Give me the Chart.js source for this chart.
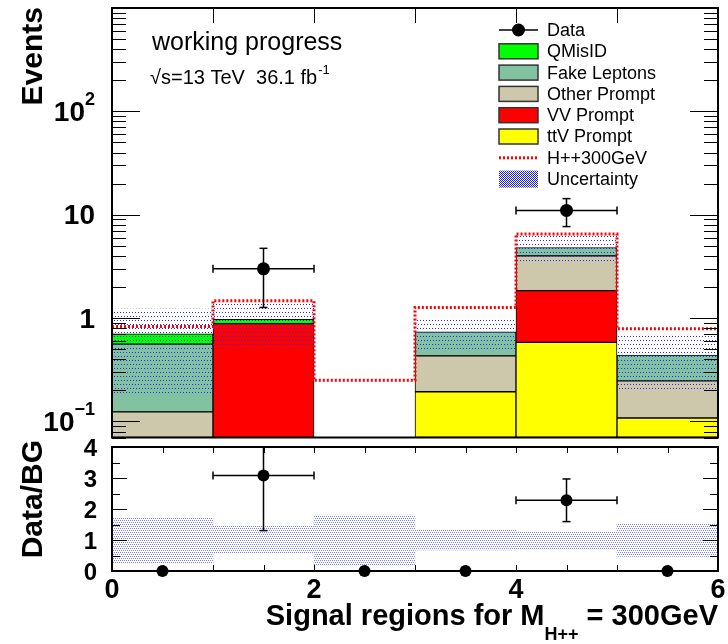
<!DOCTYPE html>
<html>
<head>
<meta charset="utf-8">
<script src="https://cdn.jsdelivr.net/npm/chart.js@4.4.1/dist/chart.umd.min.js"></script>
<style>
  html, body { margin: 0; padding: 0; background: #fff; }
  #wrap { position: relative; width: 728px; height: 644px; overflow: hidden; }
  #top { position: absolute; left: 0; top: 0; }
  #bot { position: absolute; left: 0; top: 432px; }
</style>
</head>
<body>
<div id="wrap">
  <canvas id="top" width="728" height="444" style="width:728px;height:444px"></canvas>
  <canvas id="bot" width="728" height="212" style="width:728px;height:212px"></canvas>
</div>
<script>
var FONT = "'Liberation Sans', Arial, Helvetica, sans-serif";

// bin edges of the signal regions
var bins = [0, 1, 2, 3, 4, 5, 6];

// background yields per bin (stacked, bottom to top)
var ttvPrompt   = [null, null, null, 0.194, 0.582, 0.108];
var vvPrompt    = [null, 0.883, null, null, 1.26, null];
var otherPrompt = [0.124, null, null, 0.237, 2.16, 0.139];
var fakeLeptons = [0.437, null, null, 0.304, 0.82, 0.191];
var qMisID      = [0.144, 0.09, null, null, null, null];

// H++ 300 GeV outline, data counts, relative bkg uncertainty
var hppLine    = [0.83, 1.47, 0.25, 1.27, 6.5, 0.79];
var dataCounts = [0, 3, 0, 0, 11, 0];
var relUnc     = [0.73, 0.44, 0.8, 0.32, 0.28, 0.53];

// axis labels
var xTickLabels = [0, 2, 4, 6];
var ratioTicks  = [0, 1, 2, 3, 4];
var eventTicks  = [[0.1, '10', '\u22121'], [1, '1', ''], [10, '10', ''], [100, '10', '2']];

var centers = dataCounts.map(function (d, i) { return (bins[i] + bins[i + 1]) / 2; });
function pts(arr) { return arr.map(function (v, i) { return {x: centers[i], y: v}; }); }

var bgTotal = centers.map(function (c, i) {
  return [ttvPrompt, vvPrompt, otherPrompt, fakeLeptons, qMisID].reduce(function (s, a) { return s + (a[i] || 0); }, 0);
});
var uncBand = bgTotal.map(function (t, i) {
  return {x: centers[i], y: t > 0 ? [t * (1 - relUnc[i]), t * (1 + relUnc[i])] : null};
});
var hppStep = bins.map(function (b, i) { return {x: b, y: hppLine[Math.min(i, hppLine.length - 1)]}; });
var dataPts = [];
dataCounts.forEach(function (n, i) { if (n > 0) dataPts.push({x: centers[i], y: n}); });

var ratio = dataCounts.map(function (n, i) { return bgTotal[i] > 0 ? n / bgTotal[i] : 0; });
var ratioErr = dataCounts.map(function (n, i) { return bgTotal[i] > 0 ? Math.sqrt(n) / bgTotal[i] : 0; });
var bandPts = relUnc.map(function (e, i) { return {x: centers[i], y: [1 - e, 1 + e]}; });

function makePattern(target, w, h, dots, color) {
  var c = document.createElement('canvas');
  c.width = w; c.height = h;
  var g = c.getContext('2d');
  g.fillStyle = color;
  dots.forEach(function (d) { g.fillRect(d[0], d[1], 1, 1); });
  return target.createPattern(c, 'repeat');
}

var topCtx = document.getElementById('top').getContext('2d');
var botCtx = document.getElementById('bot').getContext('2d');
var uncPattern = makePattern(topCtx, 6, 8, [[0, 0], [3, 0], [1, 4], [4, 4]], '#2a2aff');
var legPattern = makePattern(topCtx, 2, 2, [[0, 0], [1, 1]], '#1a1aff');
var bandPattern = makePattern(botCtx, 4, 4, [[0, 0], [2, 0], [1, 2], [3, 2]], '#7c7cff');

function stackSet(label, arr, color) {
  return {
    label: label, type: 'bar', data: pts(arr), stack: 'bg', order: 3,
    backgroundColor: color, borderColor: '#000', borderWidth: 1, borderSkipped: false,
    barPercentage: 1, categoryPercentage: 1
  };
}

function seg(ctx, x0, y0, x1, y1) {
  ctx.beginPath(); ctx.moveTo(x0, y0); ctx.lineTo(x1, y1); ctx.stroke();
}

function errorBars(ctx, xs, ys, cx, cy, yLo, yHi, area) {
  var x0 = xs.getPixelForValue(cx - 0.5), x1 = xs.getPixelForValue(cx + 0.5);
  var py = ys.getPixelForValue(cy), px = xs.getPixelForValue(cx);
  var top = Math.max(ys.getPixelForValue(yHi), area.top);
  var bot = Math.min(ys.getPixelForValue(yLo), area.bottom);
  ctx.strokeStyle = '#000';
  ctx.lineWidth = 1.5;
  seg(ctx, x0, py, x1, py);
  seg(ctx, x0, py - 4, x0, py + 4);
  seg(ctx, x1, py - 4, x1, py + 4);
  seg(ctx, px, top, px, bot);
  if (top > area.top) seg(ctx, px - 4, top, px + 4, top);
  if (bot < area.bottom) seg(ctx, px - 4, bot, px + 4, bot);
}

var upperDecor = {
  id: 'upperDecor',
  afterDatasetsDraw: function (chart) {
    var ctx = chart.ctx, a = chart.chartArea, xs = chart.scales.x, ys = chart.scales.y;
    ctx.save();
    dataCounts.forEach(function (n, i) {
      if (n > 0) errorBars(ctx, xs, ys, centers[i], n, n - Math.sqrt(n), n + Math.sqrt(n), a);
    });
    // ticks
    ctx.strokeStyle = '#000';
    ctx.lineWidth = 1;
    for (var d = -2; d <= 3; d++) {
      for (var m = 1; m <= 9; m++) {
        var v = m * Math.pow(10, d);
        if (v < ys.min || v > ys.max) continue;
        var py = Math.round(ys.getPixelForValue(v)) + 0.5;
        var len = m === 1 ? 28 : 14;
        seg(ctx, a.left, py, a.left + len, py);
        seg(ctx, a.right - len, py, a.right, py);
      }
    }
    for (var k = 1; k < 6; k++) {
      var px = Math.round(xs.getPixelForValue(k)) + 0.5;
      seg(ctx, px, a.top, px, a.top + 15);
    }
    ctx.lineWidth = 2;
    ctx.strokeRect(a.left, a.top, a.right - a.left, a.bottom - a.top);

    // y tick labels with exponents
    ctx.fillStyle = '#000';
    ctx.textBaseline = 'middle';
    eventTicks.forEach(function (t) {
      var py = ys.getPixelForValue(t[0]) + 2;
      ctx.font = 'bold 18px ' + FONT;
      var we = t[2] ? ctx.measureText(t[2]).width : 0;
      ctx.font = 'bold 28px ' + FONT;
      ctx.textAlign = 'right';
      ctx.fillText(t[1], 95 - we, py);
      if (t[2]) {
        ctx.font = 'bold 18px ' + FONT;
        ctx.textAlign = 'left';
        ctx.fillText(t[2], 95 - we, py - 13);
      }
    });

    // axis title
    ctx.save();
    ctx.translate(42, 7);
    ctx.rotate(-Math.PI / 2);
    ctx.font = 'bold 30px ' + FONT;
    ctx.textAlign = 'right';
    ctx.textBaseline = 'alphabetic';
    ctx.fillText('Events', 0, 0);
    ctx.restore();

    // labels
    ctx.textAlign = 'left';
    ctx.textBaseline = 'alphabetic';
    ctx.font = '25px ' + FONT;
    ctx.fillText('working progress', 152, 50);
    ctx.font = '20px ' + FONT;
    var s1 = '\u221As=13 TeV  36.1 fb';
    ctx.fillText(s1, 150, 84);
    var w1 = ctx.measureText(s1).width;
    ctx.font = '13px ' + FONT;
    ctx.fillText('-1', 150 + w1 + 1, 74);

    // legend
    var byLabel = {};
    chart.data.datasets.forEach(function (ds) { byLabel[ds.label] = ds; });
    var rows = ['Data', 'QMisID', 'Fake Leptons', 'Other Prompt', 'VV Prompt', 'ttV Prompt', 'H++300GeV', 'Uncertainty'];
    ctx.font = '18px ' + FONT;
    rows.forEach(function (name, i) {
      var cy = 30 + i * 21.3, ds = byLabel[name];
      var bx = 499, bw = 39, bh = 15;
      if (name === 'Data') {
        ctx.lineWidth = 1.5; ctx.strokeStyle = '#000';
        seg(ctx, bx, cy, bx + bw, cy);
        ctx.fillStyle = '#000';
        ctx.beginPath(); ctx.arc(bx + bw / 2, cy, 6.5, 0, Math.PI * 2); ctx.fill();
      } else if (name === 'H++300GeV') {
        ctx.save();
        ctx.strokeStyle = ds.borderColor; ctx.lineWidth = 3; ctx.setLineDash([2, 2]);
        seg(ctx, bx, cy, bx + bw, cy);
        ctx.restore();
      } else if (name === 'Uncertainty') {
        ctx.fillStyle = legPattern;
        ctx.fillRect(bx, cy - bh / 2 - 1, bw, bh + 2);
      } else {
        ctx.fillStyle = ds.backgroundColor;
        ctx.fillRect(bx, cy - bh / 2, bw, bh);
        ctx.lineWidth = 1.5; ctx.strokeStyle = '#333';
        ctx.strokeRect(bx, cy - bh / 2, bw, bh);
      }
      ctx.fillStyle = '#000';
      ctx.textBaseline = 'middle';
      ctx.fillText(name, 547, cy + 1);
    });
    ctx.restore();
  }
};

var upper = new Chart(topCtx, {
  type: 'bar',
  data: {
    datasets: [
      stackSet('ttV Prompt', ttvPrompt, '#ffff00'),
      stackSet('VV Prompt', vvPrompt, '#ff0000'),
      stackSet('Other Prompt', otherPrompt, 'rgb(205,199,171)'),
      stackSet('Fake Leptons', fakeLeptons, 'rgb(130,194,160)'),
      stackSet('QMisID', qMisID, '#00ff00'),
      {label: 'Uncertainty', type: 'bar', data: uncBand, stack: 'unc', grouped: false, order: 2,
       backgroundColor: uncPattern, borderWidth: 0, barPercentage: 1, categoryPercentage: 1},
      {label: 'H++300GeV', type: 'line', data: hppStep, stack: 'sig', stepped: true, order: 1,
       borderColor: '#ff0000', borderWidth: 3, borderDash: [2, 2], pointRadius: 0, fill: false},
      {label: 'Data', type: 'line', data: dataPts, stack: 'data', showLine: false, order: 0,
       pointRadius: 6.5, pointBackgroundColor: '#000', pointBorderWidth: 0}
    ]
  },
  options: {
    responsive: false,
    animation: false,
    layout: {padding: {left: 112, right: 10, top: 8, bottom: 2}},
    plugins: {legend: {display: false}, tooltip: {enabled: false}},
    scales: {
      x: {type: 'linear', display: false, min: 0, max: 6, offset: false, ticks: {stepSize: 1}},
      y: {type: 'logarithmic', display: false, min: 0.07, max: 1000, stacked: true}
    }
  },
  plugins: [upperDecor]
});

var lowerDecor = {
  id: 'lowerDecor',
  afterDatasetsDraw: function (chart) {
    var ctx = chart.ctx, a = chart.chartArea, xs = chart.scales.x, ys = chart.scales.y;
    ctx.save();
    dataCounts.forEach(function (n, i) {
      if (n > 0) errorBars(ctx, xs, ys, centers[i], ratio[i], ratio[i] - ratioErr[i], ratio[i] + ratioErr[i], a);
    });
    ctx.strokeStyle = '#000';
    ctx.lineWidth = 1;
    for (var v = 0; v <= 4; v += 0.5) {
      var py = Math.round(ys.getPixelForValue(v)) + 0.5;
      var len = v % 1 === 0 ? 15 : 8;
      seg(ctx, a.left, py, a.left + len, py);
      seg(ctx, a.right - len, py, a.right, py);
    }
    for (var k = 0.5; k < 6; k += 0.5) {
      var px = Math.round(xs.getPixelForValue(k)) + 0.5;
      seg(ctx, px, a.top, px, a.top + 6);
      seg(ctx, px, a.bottom - 6, px, a.bottom);
    }
    ctx.lineWidth = 2;
    ctx.strokeRect(a.left, a.top, a.right - a.left, a.bottom - a.top);

    ctx.fillStyle = '#000';
    ctx.save();
    ctx.translate(42, 8);
    ctx.rotate(-Math.PI / 2);
    ctx.font = 'bold 30px ' + FONT;
    ctx.textAlign = 'right';
    ctx.textBaseline = 'alphabetic';
    ctx.fillText('Data/BG', 0, 0);
    ctx.restore();

    var main1 = 'Signal regions for M', sub = 'H++', main2 = ' = 300GeV';
    ctx.textAlign = 'left';
    ctx.textBaseline = 'alphabetic';
    ctx.font = 'bold 29px ' + FONT;
    var w1 = ctx.measureText(main1).width, w3 = ctx.measureText(main2).width;
    ctx.font = 'bold 18px ' + FONT;
    var w2 = ctx.measureText(sub).width;
    var x0 = a.right - (w1 + w2 + w3);
    ctx.font = 'bold 29px ' + FONT;
    ctx.fillText(main1, x0, 193);
    ctx.fillText(main2, x0 + w1 + w2, 193);
    ctx.font = 'bold 18px ' + FONT;
    ctx.fillText(sub, x0 + w1, 208);
    ctx.restore();
  }
};

function noPad(s) { s.paddingTop = 0; s.paddingBottom = 0; s.paddingLeft = 0; s.paddingRight = 0; }

var lower = new Chart(botCtx, {
  type: 'bar',
  data: {
    datasets: [
      {label: 'Data/BG', type: 'line', data: pts(ratio), showLine: false, clip: false, order: 0,
       pointRadius: 6, pointBackgroundColor: '#000', pointBorderWidth: 0},
      {label: 'Uncertainty', type: 'bar', data: bandPts, order: 1,
       backgroundColor: bandPattern, borderWidth: 0, barPercentage: 1, categoryPercentage: 1}
    ]
  },
  options: {
    responsive: false,
    animation: false,
    layout: {padding: {left: 0, right: 10, top: 15, bottom: 0}},
    plugins: {legend: {display: false}, tooltip: {enabled: false}},
    scales: {
      x: {
        type: 'linear', min: 0, max: 6, offset: false,
        grid: {display: false, drawTicks: false}, border: {display: false},
        ticks: {
          stepSize: 2, autoSkip: false, maxRotation: 0, padding: 3, color: '#000',
          font: {family: FONT, size: 27, weight: 'bold'},
          callback: function (v) { return xTickLabels.indexOf(v) >= 0 ? String(v) : ''; }
        },
        afterFit: function (s) { s.height = 73; noPad(s); }
      },
      y: {
        min: 0, max: 4,
        grid: {display: false, drawTicks: false}, border: {display: false},
        ticks: {
          stepSize: 1, autoSkip: false, padding: 15, labelOffset: 2, color: '#000',
          font: {family: FONT, size: 24, weight: 'bold'},
          callback: function (v) { return ratioTicks.indexOf(v) >= 0 ? String(v) : ''; }
        },
        afterFit: function (s) { s.width = 112; noPad(s); }
      }
    }
  },
  plugins: [lowerDecor]
});
</script>
</body>
</html>
